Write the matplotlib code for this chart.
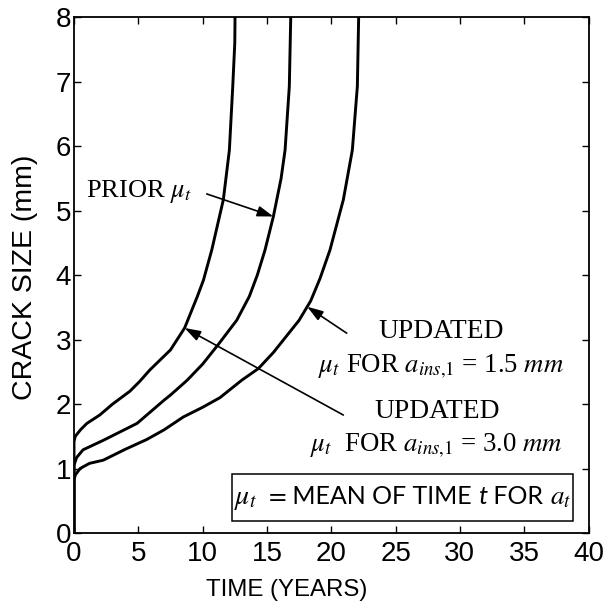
import numpy as np
import matplotlib
matplotlib.use("Agg")
import matplotlib.pyplot as plt
from matplotlib.offsetbox import TextArea, HPacker, AnnotationBbox
from matplotlib.patches import Rectangle

plt.rcParams["mathtext.fontset"] = "stix"

# Mean time to reach each crack size (years, mm)
t_upd30 = [0, 0, 0.1, 0.5, 1.0, 2.0, 3.0, 4.35, 5.1, 5.9, 7.5, 8.6, 9.59, 10.06,
           10.71, 11.61, 12.08, 12.34, 12.5, 12.52]
a_upd30 = [0, 1.42, 1.5, 1.6, 1.7, 1.83, 2.0, 2.2, 2.35, 2.53, 2.84, 3.18, 3.67,
           3.92, 4.39, 5.17, 5.94, 6.92, 7.6, 8.0]

t_prior = [0, 0, 0.2, 0.7, 2.3, 4.9, 7.0, 7.5, 8.8, 10.0, 11.2, 12.65, 13.63,
           14.25, 14.85, 15.5, 16.1, 16.41, 16.74, 16.85]
a_prior = [0, 1.05, 1.17, 1.29, 1.44, 1.70, 2.06, 2.14, 2.37, 2.62, 2.92, 3.3,
           3.67, 4.0, 4.39, 4.91, 5.5, 5.94, 6.93, 8.0]

t_upd15 = [0, 0, 0.1, 0.47, 1.2, 2.28, 4.0, 5.65, 7.0, 8.5, 10.0, 11.35, 13.04,
           14.33, 15.5, 16.5, 17.5, 18.4, 19.13, 19.9, 20.94, 21.64, 22.03, 22.13]
a_upd15 = [0, 0.82, 0.9, 1.0, 1.08, 1.13, 1.3, 1.45, 1.6, 1.80, 1.95, 2.1, 2.37,
           2.55, 2.8, 3.05, 3.3, 3.6, 3.95, 4.39, 5.17, 5.94, 6.93, 8.0]

x_ticks = [0, 5, 10, 15, 20, 25, 30, 35, 40]
y_ticks = [0, 1, 2, 3, 4, 5, 6, 7, 8]

W, H = 608, 610
fig = plt.figure(figsize=(W / 100, H / 100), dpi=100)
ax = fig.add_axes([74 / W, 1 - 533 / H, 514.5 / W, 515.7 / H])

for t, a in [(t_upd30, a_upd30), (t_prior, a_prior), (t_upd15, a_upd15)]:
    ax.plot(t, a, color="black", lw=2.1, solid_joinstyle="round")

ax.set_xlim(0, 40)
ax.set_ylim(0, 8)
ax.set_xticks(x_ticks)
ax.set_yticks(y_ticks)
sans = "Liberation Sans"
ax.tick_params(direction="in", top=True, right=True, length=5, width=1,
               labelsize=20)
ax.tick_params(axis="x", pad=6)
ax.tick_params(axis="y", pad=2)
for lab in ax.get_xticklabels() + ax.get_yticklabels():
    lab.set_fontfamily(sans)
for s in ax.spines.values():
    s.set_linewidth(1.3)

fig.text(25 / W, 1 - 277 / H, "CRACK SIZE (mm)", rotation=90, ha="center",
         va="center", fontsize=20.5, fontfamily=sans)
fig.text(287 / W, 1 - 590 / H, "TIME (YEARS)", ha="center", va="center",
         fontsize=17.3, fontfamily=sans)

serif = "Liberation Serif"
arrow = dict(arrowstyle="-|>,head_length=0.6,head_width=0.2", color="black",
             lw=1.2, shrinkA=0, shrinkB=0, mutation_scale=16)

# Prior mean curve
ax.text(0.93, 5.21, r"PRIOR $\mu_t$", fontsize=19, fontfamily=serif,
        ha="left", va="baseline")
a_tip = 4.91
ax.annotate("", xy=(np.interp(a_tip, a_prior, t_prior), a_tip),
            xytext=(10.32, 5.26), arrowprops=arrow)

# Updated curve, inspection at 1.5 mm
ax.text(28.54, 3.025, "UPDATED", fontsize=19.8, fontfamily=serif,
        ha="center", va="baseline")
ax.text(28.54, 2.48, r"$\mu_t$ FOR $a_{ins{,}\mathit{1}}$ = 1.5 $mm$", fontsize=19.3,
        fontfamily=serif, ha="center", va="baseline")
a_tip = 3.51
ax.annotate("", xy=(np.interp(a_tip, a_upd15, t_upd15), a_tip),
            xytext=(21.2, 3.10), arrowprops=arrow)

# Updated curve, inspection at 3.0 mm
ax.text(28.2, 1.784, "UPDATED", fontsize=19.8, fontfamily=serif,
        ha="center", va="baseline")
ax.text(28.15, 1.257, r"$\mu_t$  FOR $a_{ins{,}\mathit{1}}$ = 3.0 $mm$", fontsize=19.3,
        fontfamily=serif, ha="center", va="baseline")
a_tip = 3.18
ax.annotate("", xy=(np.interp(a_tip, a_upd30, t_upd30), a_tip),
            xytext=(20.94, 1.83), arrowprops=arrow)

# Definition box
ax.add_patch(Rectangle((12.3, 0.186), 38.8 - 12.3, 0.915 - 0.186,
                       facecolor="white", edgecolor="black", lw=1.1, zorder=3))
parts = [
    (r"$\mu_t$", dict(fontsize=20, fontfamily=serif)),
    (r" $=$", dict(fontsize=18.5, fontfamily=serif)),
    (" MEAN OF TIME ", dict(fontsize=18, fontfamily="Lato")),
    ("t", dict(fontsize=18.5, fontfamily="Lato", fontstyle="italic")),
    (" FOR ", dict(fontsize=18, fontfamily="Lato")),
    (r"$a_t$", dict(fontsize=19.5, fontfamily=serif)),
]
areas = [TextArea(s, textprops=dict(color="black", **p)) for s, p in parts]
row = HPacker(children=areas, align="baseline", pad=0, sep=0)
box = AnnotationBbox(row, (25.55, 0.53), xycoords="data", box_alignment=(0.5, 0.5),
                     frameon=False, zorder=4)
ax.add_artist(box)

fig.savefig("out.png", dpi=100)
